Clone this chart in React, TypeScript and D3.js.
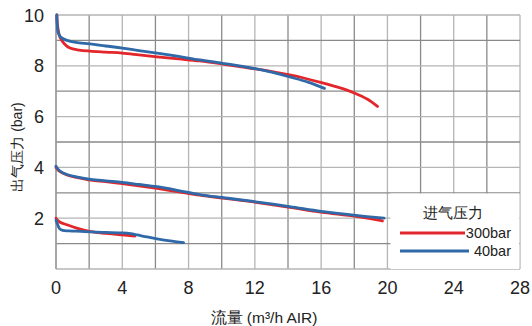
import React from "react";
import * as d3 from "d3";

const xTicks = [0, 4, 8, 12, 16, 20, 24, 28];
const yTicks = [2, 4, 6, 8, 10];

// 300bar inlet (red)
const red1X = [0.05, 0.1, 0.24, 0.5, 0.84, 1.4, 2.05, 3, 4, 5, 6.1, 7.4, 8.67, 10.06, 11.5, 12.8, 14.1, 15.0, 15.9, 17.0, 18.0, 18.8, 19.4];
const red1Y = [10, 9.55, 9.13, 8.87, 8.7, 8.62, 8.58, 8.54, 8.5, 8.43, 8.35, 8.27, 8.19, 8.07, 7.93, 7.8, 7.64, 7.51, 7.36, 7.16, 6.93, 6.68, 6.4];
const red2X = [0, 0.2, 0.66, 1.3, 2.1, 3, 4, 5, 6.1, 7.4, 8.67, 10.2, 11.9, 14.1, 16.0, 18.1, 19.7];
const red2Y = [4.0, 3.85, 3.7, 3.6, 3.5, 3.44, 3.36, 3.27, 3.17, 3.04, 2.91, 2.78, 2.64, 2.43, 2.24, 2.07, 1.89];
const red3X = [0, 0.2, 0.66, 1.3, 2.1, 3, 4, 4.76];
const red3Y = [2.0, 1.86, 1.74, 1.6, 1.47, 1.4, 1.34, 1.3];

// 40bar inlet (blue)
const blue1X = [0.05, 0.08, 0.13, 0.3, 0.66, 1.2, 2.05, 3, 4, 5, 6.1, 7.4, 8.67, 10.06, 11.5, 12.8, 14.1, 15.2, 16.2];
const blue1Y = [10, 9.6, 9.3, 9.12, 9.0, 8.92, 8.86, 8.78, 8.7, 8.6, 8.5, 8.37, 8.23, 8.1, 7.95, 7.78, 7.56, 7.36, 7.11];
const blue2X = [0, 0.2, 0.66, 1.3, 2.1, 3, 4, 5, 6.1, 7.4, 8.67, 10.2, 11.9, 14.1, 16.0, 18.1, 19.8];
const blue2Y = [4.05, 3.88, 3.72, 3.62, 3.53, 3.47, 3.41, 3.33, 3.24, 3.09, 2.93, 2.8, 2.66, 2.46, 2.27, 2.11, 2.0];
const blue3X = [0, 0.1, 0.2, 0.4, 0.8, 1.5, 2.1, 3, 4, 4.5, 4.9, 5.5, 6.1, 7.0, 7.7];
const blue3Y = [1.93, 1.75, 1.6, 1.52, 1.5, 1.48, 1.46, 1.44, 1.42, 1.39, 1.34, 1.26, 1.19, 1.1, 1.04];

const legendTitle = "进气压力";
const seriesNames = ["300bar", "40bar"];
const colors = ["#e3262b", "#2f69a8"];

const zip = (xs: number[], ys: number[]) => xs.map((x, i) => [x, ys[i]] as [number, number]);

export default function App() {
  const W = 532, H = 326;
  const left = 56, right = 520, top = 15, bottom = 269;
  const x = d3.scaleLinear().domain([0, 28]).range([left, right]);
  const y = d3.scaleLinear().domain([0, 10]).range([bottom, top]);
  const line = d3.line<[number, number]>().x(d => x(d[0])).y(d => y(d[1])).curve(d3.curveCatmullRom.alpha(0.5));

  const redLines = [zip(red1X, red1Y), zip(red2X, red2Y), zip(red3X, red3Y)];
  const blueLines = [zip(blue1X, blue1Y), zip(blue2X, blue2Y), zip(blue3X, blue3Y)];

  const gridX = d3.range(0, 29, 2);
  const gridY = d3.range(0, 11, 1);
  const font = "'Liberation Sans', Arial, sans-serif";

  const lx0 = x(20) + 3;
  return (
    <svg width={W} height={H} style={{ position: "absolute", left: 0, top: 0 }} fontFamily={font}>
      <rect width={W} height={H} fill="#fff" />
      {gridX.map(v => (
        <line key={"gx" + v} x1={x(v)} x2={x(v)} y1={top} y2={bottom} stroke={v % 4 === 0 ? "#b5b5b5" : "#8a8a8a"} strokeWidth={1.3} />
      ))}
      {gridY.map(v => (
        <line key={"gy" + v} x1={left} x2={right} y1={y(v)} y2={y(v)} stroke={v % 2 === 0 ? "#b5b5b5" : "#8a8a8a"} strokeWidth={1.3} />
      ))}
      <line x1={left} x2={left} y1={top} y2={bottom} stroke="#999" strokeWidth={1.5} />
      {redLines.map((d, i) => (
        <path key={"r" + i} d={line(d) || ""} fill="none" stroke={colors[0]} strokeWidth={2.8} strokeLinecap="round" />
      ))}
      {blueLines.map((d, i) => (
        <path key={"b" + i} d={line(d) || ""} fill="none" stroke={colors[1]} strokeWidth={2.8} strokeLinecap="round" />
      ))}
      {/* legend box */}
      <rect x={lx0} y={y(3) + 0.7} width={right - lx0 - 0.7} height={bottom - y(3) - 0.7} fill="#fff" />
      <text x={453} y={218} fontSize={14.5} textAnchor="middle" fill="#222">{legendTitle}</text>
      <line x1={400} x2={465} y1={233} y2={233} stroke={colors[0]} strokeWidth={2.8} />
      <line x1={400} x2={469} y1={251} y2={251} stroke={colors[1]} strokeWidth={2.8} />
      <text x={511} y={238} fontSize={14.5} textAnchor="end" fill="#222">{seriesNames[0]}</text>
      <text x={511} y={256} fontSize={14.5} textAnchor="end" fill="#222">{seriesNames[1]}</text>
      {xTicks.map(v => (
        <text key={"xt" + v} x={x(v)} y={294} fontSize={18} textAnchor="middle" fill="#222">{v}</text>
      ))}
      {yTicks.map(v => (
        <text key={"yt" + v} x={44} y={y(v) + 6.5} fontSize={18} textAnchor="end" fill="#222">{v}</text>
      ))}
      <text x={264} y={323} fontSize={15.5} textAnchor="middle" fill="#222">流量 (m³/h AIR)</text>
      <text transform={`translate(22,147) rotate(-90)`} fontSize={14} textAnchor="middle" fill="#222">出气压力 (bar)</text>
    </svg>
  );
}
